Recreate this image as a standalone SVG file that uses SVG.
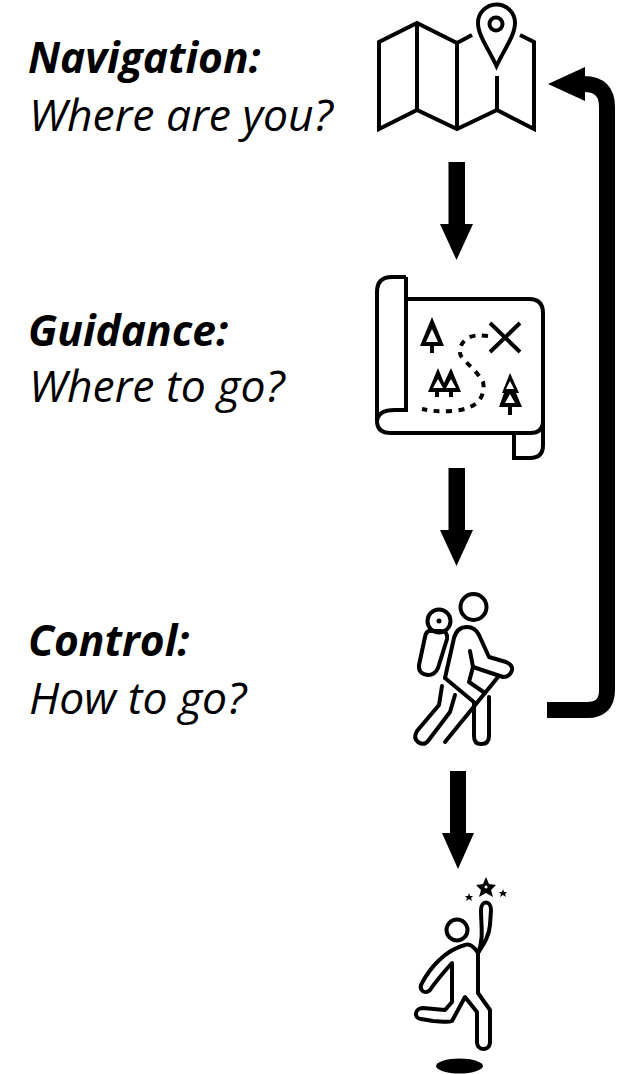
<svg xmlns="http://www.w3.org/2000/svg" width="623" height="1074" viewBox="0 0 623 1074">
<style>
.t{font-family:"Open Sans","Lato",sans-serif;font-style:italic;font-size:44.500px;fill:#000;font-variant-ligatures:none}
.b{font-weight:700;font-size:42.500px}
.i{fill:none;stroke:#000;stroke-width:4;stroke-linejoin:miter;stroke-linecap:butt}
.r{stroke-linejoin:round;stroke-linecap:round}
</style>
<rect width="623" height="1074" fill="#fff"/>
<g id="labels">
<text class="t b" x="28" y="73">Navigation:</text>
<text class="t" x="29" y="131">Where are you?</text>
<text class="t b" x="28" y="346">Guidance:</text>
<text class="t" x="29" y="402">Where to go?</text>
<text class="t b" x="28" y="656">Control:</text>
<text class="t" x="29" y="714">How to go?</text>
</g>
<g id="navigation">
<path class="i" d="M472 35L457 43L417 23L379 42V129L417 110L457 129L497 110L534 129V42L520 35M417 23V110M457 43V129M497 76V110"/>
<path class="i" d="M496.500 66C488 48 478 35 478 23A18.500 18.500 0 0 1 515 23C515 35 505 48 496.500 66Z"/>
<circle class="i" cx="496" cy="24" r="6.500"/>
</g>
<g id="guidance">
<path class="i" d="M406 299H529Q543 299 543 313V433M406 277H392Q377 277 377 292V421Q377 433 391 433H530Q543 433 543 421M406 277V410H395Q378 410 377 421M514 433V458H530Q543 458 543 445V433"/>
<path fill-rule="evenodd" d="M432 317L444 346H434V353H430V346H420ZM432 329L426 342H438Z"/>
<path fill-rule="evenodd" d="M438 368L444 383L451 368L461 392H453V397H449V392H439V397H435V392H428ZM438 379L433 388H443ZM451 379L446 388H456Z"/>
<path fill-rule="evenodd" d="M510 373L519 393H516L522 407H512V415H508V407H499L504 393H502ZM510 381L506 389H514ZM510 394L505 403H515Z"/>
<path class="i" d="M490 323L520 352M520 323L490 352"/>
<path class="i" d="M488 336C480 335 473 335 468 338C461 342 458 350 461 356C465 362 478 372 483 382C485 390 482 398 477 403C470 408 463 410 452 411C440 412 432 411 422 409" style="stroke-dasharray:6 6.500"/>
</g>
<g id="control">
<g class="i r">
<circle cx="473.500" cy="607" r="13"/>
<circle cx="439" cy="621" r="11.500"/>
<path d="M429 631H441Q448 631 447 639L438 668Q435 675 428 675Q418 674 419 665L425 637Q426 632 429 631Z"/>
<path d="M470 651L473 667L469 682L485 693"/>
<path d="M445 678L454 638Q457 627 467 627Q475 627 479 635L489 657L506 662Q513 665 512 670Q510 677 503 677L473 667"/>
<path d="M445 678L475 703"/>
<path d="M498 677L445 742"/>
<path d="M489 697V736Q489 744 481 744Q474 744 474 736V703"/>
<path d="M442 686L439 705L417 731Q413 738 418 742Q424 746 428 741L450 712L455 695"/>
</g>
<circle cx="439" cy="621" r="2.500"/>
</g>
<g id="goal">
<circle class="i" cx="457" cy="930" r="10.500"/>
<path class="i r" d="M478 953C484 940 481 925 481 910C481 900 491 900 491 910L490 925C489 937 483 945 478 953V993L490 1010V1043C489 1051 478 1051 477 1043V1012L465 997L452 1021C447 1023 440 1021 433 1021L421 1019C413 1018 415 1008 423 1008L445 1010L452 1002V963C443 973 434 984 430 990C425 995 418 990 422 983C430 968 445 950 465 945C470 943 475 948 478 953Z"/>
<path fill-rule="evenodd" d="M486 877L489 884L496 885L491 890L493 897L486 893L479 897L481 890L476 885L483 884ZM486 885.500A1.500 1.500 0 1 0 486.010 888.500A1.500 1.500 0 1 0 486 885.500Z"/>
<path d="M469 893L470 896L473 896L471 898L472 901L469 899L466 901L467 898L465 896L468 896Z"/>
<path d="M503 889L504 892L507 892L505 894L506 897L503 895L500 897L501 894L499 892L502 892Z"/>
<ellipse cx="459.500" cy="1066" rx="23.500" ry="7.500"/>
</g>
<g id="connectors">
<path d="M448.500 162H465V224H473L456.500 260L440 224H448.500Z"/>
<path d="M448.500 468H465V530H473L456.500 566L440 530H448.500Z"/>
<path d="M450 771H466V833H474L458 869L442 833H450Z"/>
<path d="M547 710H587Q607 710 607 690V107Q607 84 584 84" fill="none" stroke="#000" stroke-width="16"/>
<path d="M548 84L585 67V101Z"/>
</g>
</svg>
